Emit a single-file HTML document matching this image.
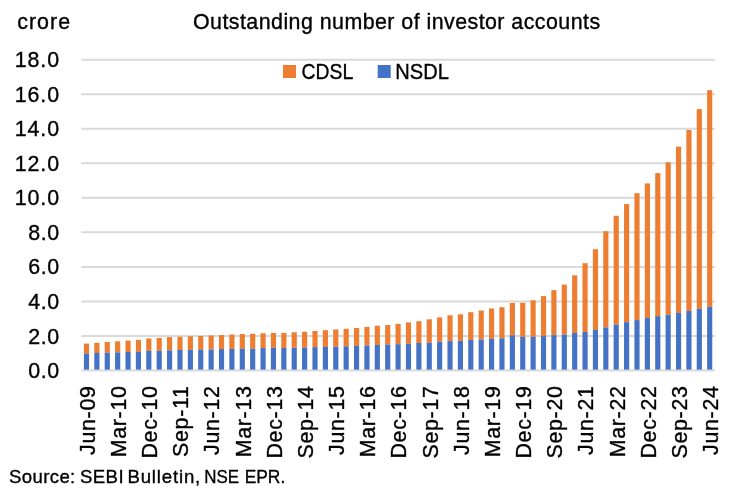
<!DOCTYPE html>
<html><head><meta charset="utf-8"><title>Outstanding number of investor accounts</title>
<style>
html,body{margin:0;padding:0;background:#fff;}
body{width:736px;height:500px;overflow:hidden;}
svg{display:block;}
text{font-family:"Liberation Sans",sans-serif;fill:#000;stroke:#000;stroke-width:0.35px;}
.ax{font-size:21.4px;}
.yl{text-anchor:end;}
.src{font-size:18.6px;}
</style></head><body>
<svg width="736" height="500" viewBox="0 0 736 500">
<rect width="736" height="500" fill="#fff"/>

<line x1="81.3" x2="714.9" y1="370.50" y2="370.50" stroke="#d9d9d9" stroke-width="2"/>
<line x1="81.3" x2="714.9" y1="335.96" y2="335.96" stroke="#d9d9d9" stroke-width="2"/>
<line x1="81.3" x2="714.9" y1="301.42" y2="301.42" stroke="#d9d9d9" stroke-width="2"/>
<line x1="81.3" x2="714.9" y1="266.88" y2="266.88" stroke="#d9d9d9" stroke-width="2"/>
<line x1="81.3" x2="714.9" y1="232.34" y2="232.34" stroke="#d9d9d9" stroke-width="2"/>
<line x1="81.3" x2="714.9" y1="197.80" y2="197.80" stroke="#d9d9d9" stroke-width="2"/>
<line x1="81.3" x2="714.9" y1="163.26" y2="163.26" stroke="#d9d9d9" stroke-width="2"/>
<line x1="81.3" x2="714.9" y1="128.72" y2="128.72" stroke="#d9d9d9" stroke-width="2"/>
<line x1="81.3" x2="714.9" y1="94.18" y2="94.18" stroke="#d9d9d9" stroke-width="2"/>
<line x1="81.3" x2="714.9" y1="59.64" y2="59.64" stroke="#d9d9d9" stroke-width="2"/>
<rect x="83.92" y="343.60" width="5.15" height="10.10" fill="#ed7d31"/>
<rect x="83.92" y="353.70" width="5.15" height="15.90" fill="#4472c4"/>
<rect x="94.31" y="342.80" width="5.15" height="10.20" fill="#ed7d31"/>
<rect x="94.31" y="353.00" width="5.15" height="16.60" fill="#4472c4"/>
<rect x="104.69" y="342.00" width="5.15" height="10.70" fill="#ed7d31"/>
<rect x="104.69" y="352.70" width="5.15" height="16.90" fill="#4472c4"/>
<rect x="115.08" y="341.30" width="5.15" height="11.10" fill="#ed7d31"/>
<rect x="115.08" y="352.40" width="5.15" height="17.20" fill="#4472c4"/>
<rect x="125.47" y="340.60" width="5.15" height="11.40" fill="#ed7d31"/>
<rect x="125.47" y="352.00" width="5.15" height="17.60" fill="#4472c4"/>
<rect x="135.85" y="339.80" width="5.15" height="12.00" fill="#ed7d31"/>
<rect x="135.85" y="351.80" width="5.15" height="17.80" fill="#4472c4"/>
<rect x="146.24" y="338.50" width="5.15" height="12.40" fill="#ed7d31"/>
<rect x="146.24" y="350.90" width="5.15" height="18.70" fill="#4472c4"/>
<rect x="156.63" y="337.90" width="5.15" height="12.90" fill="#ed7d31"/>
<rect x="156.63" y="350.80" width="5.15" height="18.80" fill="#4472c4"/>
<rect x="167.01" y="337.10" width="5.15" height="13.30" fill="#ed7d31"/>
<rect x="167.01" y="350.40" width="5.15" height="19.20" fill="#4472c4"/>
<rect x="177.40" y="336.70" width="5.15" height="13.30" fill="#ed7d31"/>
<rect x="177.40" y="350.00" width="5.15" height="19.60" fill="#4472c4"/>
<rect x="187.79" y="336.30" width="5.15" height="13.40" fill="#ed7d31"/>
<rect x="187.79" y="349.70" width="5.15" height="19.90" fill="#4472c4"/>
<rect x="198.17" y="335.90" width="5.15" height="13.80" fill="#ed7d31"/>
<rect x="198.17" y="349.70" width="5.15" height="19.90" fill="#4472c4"/>
<rect x="208.56" y="335.50" width="5.15" height="13.95" fill="#ed7d31"/>
<rect x="208.56" y="349.45" width="5.15" height="20.15" fill="#4472c4"/>
<rect x="218.95" y="335.05" width="5.15" height="14.00" fill="#ed7d31"/>
<rect x="218.95" y="349.05" width="5.15" height="20.55" fill="#4472c4"/>
<rect x="229.33" y="334.50" width="5.15" height="14.40" fill="#ed7d31"/>
<rect x="229.33" y="348.90" width="5.15" height="20.70" fill="#4472c4"/>
<rect x="239.72" y="334.10" width="5.15" height="14.70" fill="#ed7d31"/>
<rect x="239.72" y="348.80" width="5.15" height="20.80" fill="#4472c4"/>
<rect x="250.11" y="333.80" width="5.15" height="14.80" fill="#ed7d31"/>
<rect x="250.11" y="348.60" width="5.15" height="21.00" fill="#4472c4"/>
<rect x="260.50" y="333.30" width="5.15" height="14.80" fill="#ed7d31"/>
<rect x="260.50" y="348.10" width="5.15" height="21.50" fill="#4472c4"/>
<rect x="270.88" y="333.00" width="5.15" height="14.80" fill="#ed7d31"/>
<rect x="270.88" y="347.80" width="5.15" height="21.80" fill="#4472c4"/>
<rect x="281.27" y="332.90" width="5.15" height="15.05" fill="#ed7d31"/>
<rect x="281.27" y="347.95" width="5.15" height="21.65" fill="#4472c4"/>
<rect x="291.66" y="332.30" width="5.15" height="15.50" fill="#ed7d31"/>
<rect x="291.66" y="347.80" width="5.15" height="21.80" fill="#4472c4"/>
<rect x="302.04" y="331.80" width="5.15" height="15.75" fill="#ed7d31"/>
<rect x="302.04" y="347.55" width="5.15" height="22.05" fill="#4472c4"/>
<rect x="312.43" y="331.00" width="5.15" height="16.14" fill="#ed7d31"/>
<rect x="312.43" y="347.14" width="5.15" height="22.46" fill="#4472c4"/>
<rect x="322.82" y="330.20" width="5.15" height="16.80" fill="#ed7d31"/>
<rect x="322.82" y="347.00" width="5.15" height="22.60" fill="#4472c4"/>
<rect x="333.20" y="329.50" width="5.15" height="17.20" fill="#ed7d31"/>
<rect x="333.20" y="346.70" width="5.15" height="22.90" fill="#4472c4"/>
<rect x="343.59" y="328.80" width="5.15" height="17.50" fill="#ed7d31"/>
<rect x="343.59" y="346.30" width="5.15" height="23.30" fill="#4472c4"/>
<rect x="353.98" y="328.00" width="5.15" height="17.90" fill="#ed7d31"/>
<rect x="353.98" y="345.90" width="5.15" height="23.70" fill="#4472c4"/>
<rect x="364.36" y="326.90" width="5.15" height="18.60" fill="#ed7d31"/>
<rect x="364.36" y="345.50" width="5.15" height="24.10" fill="#4472c4"/>
<rect x="374.75" y="325.70" width="5.15" height="19.30" fill="#ed7d31"/>
<rect x="374.75" y="345.00" width="5.15" height="24.60" fill="#4472c4"/>
<rect x="385.14" y="325.00" width="5.15" height="19.70" fill="#ed7d31"/>
<rect x="385.14" y="344.70" width="5.15" height="24.90" fill="#4472c4"/>
<rect x="395.52" y="323.90" width="5.15" height="20.30" fill="#ed7d31"/>
<rect x="395.52" y="344.20" width="5.15" height="25.40" fill="#4472c4"/>
<rect x="405.91" y="322.40" width="5.15" height="21.40" fill="#ed7d31"/>
<rect x="405.91" y="343.80" width="5.15" height="25.80" fill="#4472c4"/>
<rect x="416.30" y="321.20" width="5.15" height="21.80" fill="#ed7d31"/>
<rect x="416.30" y="343.00" width="5.15" height="26.60" fill="#4472c4"/>
<rect x="426.69" y="319.30" width="5.15" height="23.30" fill="#ed7d31"/>
<rect x="426.69" y="342.60" width="5.15" height="27.00" fill="#4472c4"/>
<rect x="437.07" y="317.40" width="5.15" height="24.30" fill="#ed7d31"/>
<rect x="437.07" y="341.70" width="5.15" height="27.90" fill="#4472c4"/>
<rect x="447.46" y="315.30" width="5.15" height="25.80" fill="#ed7d31"/>
<rect x="447.46" y="341.10" width="5.15" height="28.50" fill="#4472c4"/>
<rect x="457.85" y="314.30" width="5.15" height="26.50" fill="#ed7d31"/>
<rect x="457.85" y="340.80" width="5.15" height="28.80" fill="#4472c4"/>
<rect x="468.23" y="312.20" width="5.15" height="27.80" fill="#ed7d31"/>
<rect x="468.23" y="340.00" width="5.15" height="29.60" fill="#4472c4"/>
<rect x="478.62" y="310.50" width="5.15" height="29.00" fill="#ed7d31"/>
<rect x="478.62" y="339.50" width="5.15" height="30.10" fill="#4472c4"/>
<rect x="489.01" y="308.50" width="5.15" height="30.40" fill="#ed7d31"/>
<rect x="489.01" y="338.90" width="5.15" height="30.70" fill="#4472c4"/>
<rect x="499.39" y="307.20" width="5.15" height="31.10" fill="#ed7d31"/>
<rect x="499.39" y="338.30" width="5.15" height="31.30" fill="#4472c4"/>
<rect x="509.78" y="303.00" width="5.15" height="32.30" fill="#ed7d31"/>
<rect x="509.78" y="335.30" width="5.15" height="34.30" fill="#4472c4"/>
<rect x="520.17" y="302.75" width="5.15" height="34.05" fill="#ed7d31"/>
<rect x="520.17" y="336.80" width="5.15" height="32.80" fill="#4472c4"/>
<rect x="530.55" y="300.30" width="5.15" height="36.50" fill="#ed7d31"/>
<rect x="530.55" y="336.80" width="5.15" height="32.80" fill="#4472c4"/>
<rect x="540.94" y="296.10" width="5.15" height="40.00" fill="#ed7d31"/>
<rect x="540.94" y="336.10" width="5.15" height="33.50" fill="#4472c4"/>
<rect x="551.33" y="290.10" width="5.15" height="45.10" fill="#ed7d31"/>
<rect x="551.33" y="335.20" width="5.15" height="34.40" fill="#4472c4"/>
<rect x="561.72" y="284.60" width="5.15" height="50.00" fill="#ed7d31"/>
<rect x="561.72" y="334.60" width="5.15" height="35.00" fill="#4472c4"/>
<rect x="572.10" y="275.30" width="5.15" height="57.70" fill="#ed7d31"/>
<rect x="572.10" y="333.00" width="5.15" height="36.60" fill="#4472c4"/>
<rect x="582.49" y="263.20" width="5.15" height="68.70" fill="#ed7d31"/>
<rect x="582.49" y="331.90" width="5.15" height="37.70" fill="#4472c4"/>
<rect x="592.88" y="249.20" width="5.15" height="80.65" fill="#ed7d31"/>
<rect x="592.88" y="329.85" width="5.15" height="39.75" fill="#4472c4"/>
<rect x="603.26" y="231.25" width="5.15" height="96.15" fill="#ed7d31"/>
<rect x="603.26" y="327.40" width="5.15" height="42.20" fill="#4472c4"/>
<rect x="613.65" y="215.80" width="5.15" height="108.90" fill="#ed7d31"/>
<rect x="613.65" y="324.70" width="5.15" height="44.90" fill="#4472c4"/>
<rect x="624.04" y="204.10" width="5.15" height="118.05" fill="#ed7d31"/>
<rect x="624.04" y="322.15" width="5.15" height="47.45" fill="#4472c4"/>
<rect x="634.42" y="193.20" width="5.15" height="126.90" fill="#ed7d31"/>
<rect x="634.42" y="320.10" width="5.15" height="49.50" fill="#4472c4"/>
<rect x="644.81" y="183.40" width="5.15" height="134.50" fill="#ed7d31"/>
<rect x="644.81" y="317.90" width="5.15" height="51.70" fill="#4472c4"/>
<rect x="655.20" y="173.10" width="5.15" height="143.05" fill="#ed7d31"/>
<rect x="655.20" y="316.15" width="5.15" height="53.45" fill="#4472c4"/>
<rect x="665.58" y="162.30" width="5.15" height="152.50" fill="#ed7d31"/>
<rect x="665.58" y="314.80" width="5.15" height="54.80" fill="#4472c4"/>
<rect x="675.97" y="146.60" width="5.15" height="166.25" fill="#ed7d31"/>
<rect x="675.97" y="312.85" width="5.15" height="56.75" fill="#4472c4"/>
<rect x="686.36" y="130.00" width="5.15" height="180.90" fill="#ed7d31"/>
<rect x="686.36" y="310.90" width="5.15" height="58.70" fill="#4472c4"/>
<rect x="696.74" y="109.10" width="5.15" height="199.70" fill="#ed7d31"/>
<rect x="696.74" y="308.80" width="5.15" height="60.80" fill="#4472c4"/>
<rect x="707.13" y="90.20" width="5.15" height="216.70" fill="#ed7d31"/>
<rect x="707.13" y="306.90" width="5.15" height="62.70" fill="#4472c4"/>
<text class="ax yl" x="59.6" y="378.10" letter-spacing="0.5">0.0</text>
<text class="ax yl" x="59.6" y="343.56" letter-spacing="0.5">2.0</text>
<text class="ax yl" x="59.6" y="309.02" letter-spacing="0.5">4.0</text>
<text class="ax yl" x="59.6" y="274.48" letter-spacing="0.5">6.0</text>
<text class="ax yl" x="59.6" y="239.94" letter-spacing="0.5">8.0</text>
<text class="ax yl" x="60.0" y="205.40" letter-spacing="0.9">10.0</text>
<text class="ax yl" x="60.0" y="170.86" letter-spacing="0.9">12.0</text>
<text class="ax yl" x="60.0" y="136.32" letter-spacing="0.9">14.0</text>
<text class="ax yl" x="60.0" y="101.78" letter-spacing="0.9">16.0</text>
<text class="ax yl" x="60.0" y="67.24" letter-spacing="0.9">18.0</text>
<text class="ax" text-anchor="end" letter-spacing="0.7" transform="translate(94.79,385.4) rotate(-90)" x="0" y="0">Jun-09</text>
<text class="ax" text-anchor="end" letter-spacing="0.7" transform="translate(125.95,385.4) rotate(-90)" x="0" y="0">Mar-10</text>
<text class="ax" text-anchor="end" letter-spacing="0.7" transform="translate(157.11,385.4) rotate(-90)" x="0" y="0">Dec-10</text>
<text class="ax" text-anchor="end" letter-spacing="0.7" transform="translate(188.28,385.4) rotate(-90)" x="0" y="0">Sep-11</text>
<text class="ax" text-anchor="end" letter-spacing="0.7" transform="translate(219.44,385.4) rotate(-90)" x="0" y="0">Jun-12</text>
<text class="ax" text-anchor="end" letter-spacing="0.7" transform="translate(250.60,385.4) rotate(-90)" x="0" y="0">Mar-13</text>
<text class="ax" text-anchor="end" letter-spacing="0.7" transform="translate(281.76,385.4) rotate(-90)" x="0" y="0">Dec-13</text>
<text class="ax" text-anchor="end" letter-spacing="0.7" transform="translate(312.92,385.4) rotate(-90)" x="0" y="0">Sep-14</text>
<text class="ax" text-anchor="end" letter-spacing="0.7" transform="translate(344.08,385.4) rotate(-90)" x="0" y="0">Jun-15</text>
<text class="ax" text-anchor="end" letter-spacing="0.7" transform="translate(375.24,385.4) rotate(-90)" x="0" y="0">Mar-16</text>
<text class="ax" text-anchor="end" letter-spacing="0.7" transform="translate(406.40,385.4) rotate(-90)" x="0" y="0">Dec-16</text>
<text class="ax" text-anchor="end" letter-spacing="0.7" transform="translate(437.56,385.4) rotate(-90)" x="0" y="0">Sep-17</text>
<text class="ax" text-anchor="end" letter-spacing="0.7" transform="translate(468.72,385.4) rotate(-90)" x="0" y="0">Jun-18</text>
<text class="ax" text-anchor="end" letter-spacing="0.7" transform="translate(499.88,385.4) rotate(-90)" x="0" y="0">Mar-19</text>
<text class="ax" text-anchor="end" letter-spacing="0.7" transform="translate(531.04,385.4) rotate(-90)" x="0" y="0">Dec-19</text>
<text class="ax" text-anchor="end" letter-spacing="0.7" transform="translate(562.20,385.4) rotate(-90)" x="0" y="0">Sep-20</text>
<text class="ax" text-anchor="end" letter-spacing="0.7" transform="translate(593.36,385.4) rotate(-90)" x="0" y="0">Jun-21</text>
<text class="ax" text-anchor="end" letter-spacing="0.7" transform="translate(624.52,385.4) rotate(-90)" x="0" y="0">Mar-22</text>
<text class="ax" text-anchor="end" letter-spacing="0.7" transform="translate(655.69,385.4) rotate(-90)" x="0" y="0">Dec-22</text>
<text class="ax" text-anchor="end" letter-spacing="0.7" transform="translate(686.85,385.4) rotate(-90)" x="0" y="0">Sep-23</text>
<text class="ax" text-anchor="end" letter-spacing="0.7" transform="translate(718.01,385.4) rotate(-90)" x="0" y="0">Jun-24</text>
<text class="ax" x="17.3" y="29.2" letter-spacing="1.0">crore</text>
<text class="ax" x="193" y="29.2" letter-spacing="0.45">Outstanding number of investor accounts</text>
<rect x="283" y="65" width="13" height="13" fill="#ed7d31"/>
<text class="ax" transform="translate(301.6,78.6) scale(0.905,1)" x="0" y="0">CDSL</text>
<rect x="377.7" y="65" width="13" height="13" fill="#4472c4"/>
<text class="ax" transform="translate(395.3,78.6) scale(0.94,1)" x="0" y="0">NSDL</text>
<text class="src" x="9.1" y="482.6" letter-spacing="0.35">Source:</text>
<text class="src" x="80" y="482.6" letter-spacing="0.4">SEBI</text>
<text class="src" x="127.4" y="482.6" letter-spacing="0.84">Bulletin,</text>
<text class="src" transform="translate(204.3,482.6) scale(0.91,1)" x="0" y="0">NSE</text>
<text class="src" transform="translate(244.7,482.6) scale(0.934,1)" x="0" y="0">EPR.</text>
</svg></body></html>
